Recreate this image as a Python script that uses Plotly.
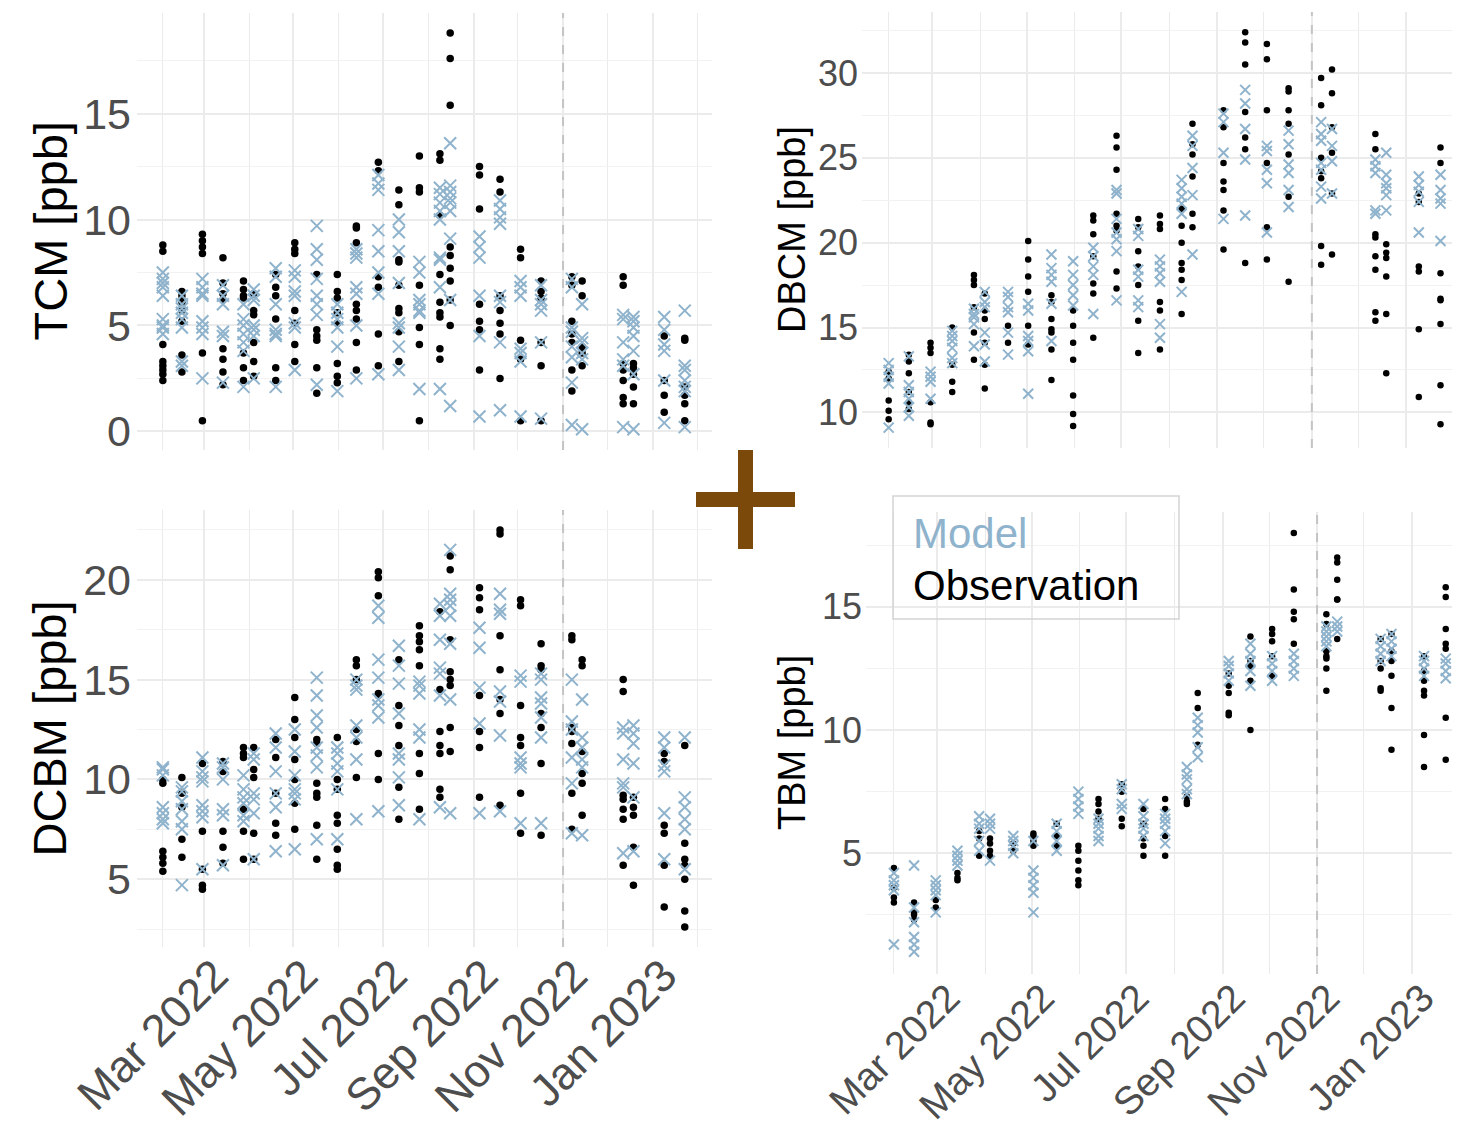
import plotly.graph_objects as go

W, H = 1460, 1127
OFFSET = 8  # the page body margin shifts the figure by this many px

# ---------------- data ----------------
DATES = ["2022-02-01", "2022-02-14", "2022-02-28", "2022-03-14", "2022-03-28", "2022-04-04",
         "2022-04-19", "2022-05-02", "2022-05-17", "2022-05-31", "2022-06-13", "2022-06-28",
         "2022-07-12", "2022-07-26", "2022-08-09", "2022-08-16", "2022-09-05", "2022-09-19",
         "2022-10-03", "2022-10-17", "2022-11-07", "2022-11-14", "2022-12-12", "2022-12-19",
         "2023-01-09", "2023-01-23"]
CUTOFF_DATE = "2022-11-01"

TCM_OBS = [[8.8, 8.5, 4.1, 3.3, 3.1, 2.9, 2.7, 2.4], [6.6, 6.4, 6.1, 5.7, 5.2, 3.6, 2.8],
           [9.3, 9.0, 8.7, 8.4, 3.7, 0.5], [8.2, 7.0, 6.5, 6.2, 3.9, 3.4, 2.8, 2.2],
           [7.1, 6.7, 6.4, 6.3, 3.7, 3.0, 2.4], [6.5, 5.7, 5.5, 4.2, 3.3, 2.6],
           [7.4, 6.8, 6.4, 5.3, 3.0, 2.4], [8.9, 8.6, 8.4, 5.7, 5.1, 4.1, 3.3],
           [7.4, 4.8, 4.5, 4.3, 3.0, 1.8], [7.4, 6.6, 6.3, 5.6, 5.1, 3.2, 2.6, 2.3],
           [9.7, 9.6, 8.9, 6.0, 5.7, 5.3, 4.2, 2.9], [12.7, 12.3, 7.3, 6.8, 4.6, 3.1],
           [11.4, 10.7, 8.1, 8.0, 6.9, 5.8, 5.6, 4.7, 3.3], [13.0, 11.5, 11.3, 6.9, 4.9, 4.1, 0.5],
           [13.1, 12.8, 10.2, 7.4, 6.1, 5.6, 5.4, 3.9, 3.4], [18.8, 17.6, 15.4, 8.7, 8.3, 7.7, 7.1, 6.2, 5.0],
           [12.5, 12.1, 10.5, 6.0, 5.2, 4.8, 2.9], [11.9, 11.3, 6.4, 5.7, 5.1, 4.6, 2.5],
           [8.6, 8.2, 4.3, 3.4, 0.5], [7.1, 6.6, 6.3, 4.2, 3.1, 0.5],
           [7.3, 6.9, 5.2, 4.6, 4.2, 2.9, 1.9], [7.1, 6.4, 4.0, 3.7, 3.1],
           [7.3, 6.9, 3.2, 2.9, 2.4, 1.6, 1.3], [3.2, 3.0, 2.7, 2.1, 1.3],
           [4.5, 2.4, 1.7, 0.9], [4.4, 4.3, 2.1, 1.7, 1.3, 0.5]]
TCM_MOD = [[7.5, 7.2, 7.0, 6.8, 6.4, 5.3, 5.0, 4.9, 4.6], [6.4, 6.0, 5.8, 5.6, 5.3, 4.9, 3.3, 3.1],
           [7.2, 6.8, 6.5, 6.4, 5.2, 4.9, 4.6, 2.5], [6.9, 6.4, 6.0, 4.7, 4.5, 2.3],
           [6.0, 5.3, 5.0, 4.6, 4.2, 3.8, 2.1], [6.7, 6.4, 6.2, 5.0, 4.8, 4.5, 2.5],
           [7.7, 7.3, 6.0, 4.8, 4.6, 4.5, 2.1], [7.6, 7.3, 6.6, 6.4, 5.1, 4.9, 2.9],
           [9.7, 8.6, 8.1, 7.2, 6.4, 6.0, 5.5, 2.2], [6.0, 5.6, 5.3, 4.9, 4.0, 1.9],
           [8.6, 8.4, 8.2, 6.8, 6.5, 5.0, 2.5], [12.1, 11.7, 11.4, 9.5, 8.5, 7.5, 6.5, 2.7],
           [10.0, 9.4, 8.5, 7.0, 5.1, 4.9, 4.0, 2.9], [8.0, 7.5, 6.2, 6.0, 5.7, 5.6, 2.0],
           [11.5, 11.2, 10.8, 10.4, 10.0, 8.2, 8.1, 6.8, 2.0], [13.6, 11.6, 11.3, 11.0, 10.8, 10.4, 9.1, 6.2, 1.2],
           [9.2, 8.7, 8.2, 6.4, 4.5, 0.7], [10.9, 10.5, 10.1, 9.8, 6.4, 6.1, 4.2, 1.0],
           [7.1, 6.8, 6.4, 3.9, 3.7, 3.3, 0.7], [6.9, 6.2, 6.0, 5.7, 4.2, 0.6],
           [7.2, 6.8, 4.9, 4.7, 4.0, 3.5, 2.3, 0.3], [6.0, 4.4, 4.2, 3.7, 3.4, 0.1],
           [5.5, 5.3, 4.2, 3.4, 3.1, 0.2], [5.4, 5.2, 4.9, 4.5, 3.8, 2.7, 0.1],
           [5.4, 4.8, 4.1, 3.8, 2.4, 0.4], [5.7, 3.1, 2.9, 2.4, 2.1, 1.9, 0.2]]

DBCM_OBS = [[12.4, 12.0, 10.7, 10.1, 9.6], [13.4, 13.0, 12.3, 11.2, 10.6, 10.2],
            [14.1, 13.8, 13.5, 10.6, 9.4, 9.3], [15.0, 12.8, 11.8, 11.2],
            [18.1, 17.8, 17.5, 16.2, 14.7, 13.1], [17.0, 16.0, 15.5, 14.1, 12.8, 11.4],
            [15.1, 14.1], [20.1, 19.0, 18.0, 17.1, 15.1, 14.0],
            [16.9, 16.5, 15.5, 14.9, 14.7, 13.7, 11.9], [16.0, 15.1, 14.1, 13.1, 11.0, 9.9, 9.2],
            [21.6, 21.3, 20.5, 19.2, 17.6, 17.0, 14.4], [26.3, 25.6, 24.3, 21.7, 21.0, 20.7, 18.3, 17.3],
            [21.4, 20.9, 19.5, 18.6, 17.5, 15.4, 13.5], [21.6, 21.1, 20.8, 16.5, 16.0, 13.7],
            [22.0, 21.0, 20.0, 18.8, 18.4, 17.8, 15.8], [27.0, 25.8, 25.2, 23.9, 21.7, 20.9],
            [27.8, 26.8, 24.7, 23.6, 23.1, 21.9, 19.6], [32.4, 31.8, 30.5, 27.7, 26.2, 25.5, 18.8],
            [31.7, 30.8, 27.8, 24.7, 20.9, 19.0], [29.1, 28.9, 27.8, 27.0, 25.2, 22.7, 17.7],
            [29.7, 28.1, 25.0, 24.2, 23.8, 19.8, 18.7], [30.2, 28.8, 26.8, 25.3, 22.9, 19.3],
            [26.4, 25.5, 20.5, 20.3, 19.2, 18.4, 15.9, 15.4], [19.9, 19.4, 19.1, 18.0, 15.8, 12.3],
            [22.9, 22.4, 18.6, 18.3, 14.9, 10.9], [25.6, 24.7, 18.2, 16.7, 16.6, 15.2, 11.6, 9.3]]
DBCM_MOD = [[12.9, 12.5, 12.1, 11.7, 9.1], [13.3, 11.6, 11.2, 10.8, 10.3, 9.8],
            [12.4, 12.1, 11.8, 10.8], [14.8, 14.5, 14.2, 13.8, 13.2, 12.9],
            [16.1, 15.8, 15.6, 15.2, 13.9], [17.1, 16.5, 16.2, 14.7, 14.0, 13.0],
            [17.1, 16.8, 16.2, 15.9, 14.7, 13.4], [16.4, 16.0, 14.5, 14.2, 13.6, 11.1],
            [19.3, 18.5, 18.1, 17.7, 16.4, 14.2], [18.9, 18.1, 17.5, 16.9, 16.3],
            [19.7, 19.2, 18.6, 18.1, 15.8], [23.1, 22.9, 21.4, 20.6, 20.2, 19.5, 16.6],
            [20.8, 20.4, 18.4, 18.0, 16.6, 16.2], [19.0, 18.6, 18.2, 17.7, 15.2, 14.4],
            [23.7, 23.2, 22.7, 22.3, 21.7, 17.1], [26.3, 25.7, 24.4, 22.8, 19.3],
            [27.6, 27.1, 25.3, 21.4], [29.0, 28.2, 26.7, 24.9, 21.6],
            [25.7, 25.4, 24.3, 23.5, 20.6], [26.6, 25.8, 24.6, 24.1, 23.1, 22.1],
            [27.1, 26.4, 26.0, 24.7, 24.3, 23.3, 22.6], [26.7, 25.7, 24.8, 22.9],
            [24.9, 24.5, 24.1, 21.9, 21.7], [25.3, 24.0, 23.5, 23.2, 22.8, 21.9],
            [23.9, 23.4, 23.0, 22.4, 20.6], [24.0, 23.1, 22.6, 22.3, 20.1]]

DCBM_OBS = [[10.0, 9.8, 6.4, 6.1, 5.8, 5.4], [10.1, 9.3, 8.6, 7.0, 6.1],
            [10.8, 7.4, 5.5, 4.7, 4.5], [10.9, 10.4, 7.4, 6.6, 5.8],
            [11.6, 11.3, 11.1, 8.5, 7.4, 6.0], [11.6, 10.5, 10.1, 7.3, 6.0],
            [12.0, 11.1, 9.3, 7.8, 7.2], [14.1, 13.0, 12.1, 11.0, 10.0, 8.8, 7.5],
            [12.0, 11.8, 9.8, 9.3, 9.1, 7.7, 6.0], [12.1, 10.0, 9.5, 8.2, 7.8, 6.5, 5.7, 5.5],
            [16.0, 15.7, 15.0, 12.5, 11.9, 10.1], [20.4, 20.1, 19.2, 14.3, 14.2, 11.3, 10.0],
            [16.0, 13.7, 12.7, 11.7, 9.6, 8.0], [17.7, 17.2, 16.9, 16.5, 15.7, 11.3, 10.3, 8.5],
            [18.4, 14.5, 12.4, 11.7, 11.3, 9.5, 9.1], [21.2, 20.5, 17.0, 15.4, 15.0, 14.7, 12.6, 11.4],
            [19.6, 19.1, 18.5, 14.2, 12.4, 11.6, 9.1], [22.5, 22.3, 17.2, 15.5, 14.0, 13.3, 8.7],
            [19.0, 18.7, 13.7, 12.1, 11.7, 9.3, 7.3], [16.8, 15.7, 15.5, 13.3, 12.6, 10.8, 7.2],
            [17.2, 17.0, 12.6, 12.4, 11.8, 9.3, 7.5], [16.0, 15.7, 11.4, 10.3, 9.8, 8.2],
            [15.0, 14.4, 9.2, 9.0, 8.5, 8.0, 5.7], [9.1, 8.6, 8.2, 6.6, 4.7],
            [11.3, 10.9, 7.7, 7.3, 5.7, 3.6], [11.7, 6.8, 6.0, 5.7, 5.0, 3.4, 2.6]]
DCBM_MOD = [[10.6, 10.5, 10.2, 8.6, 8.3, 8.0, 7.8], [9.6, 9.4, 8.9, 8.5, 7.9, 7.5, 4.7],
            [11.1, 10.4, 10.1, 9.9, 8.7, 8.4, 8.1, 5.5], [10.8, 10.6, 10.0, 8.5, 8.2, 5.7],
            [10.2, 9.5, 9.1, 8.8, 8.2, 7.9], [11.3, 11.0, 9.3, 9.0, 8.3, 6.0],
            [12.3, 11.6, 10.4, 9.3, 8.6, 6.4], [12.5, 11.4, 10.2, 9.5, 9.3, 9.0, 6.5],
            [15.1, 14.2, 13.2, 12.6, 11.6, 11.2, 10.6, 7.0], [11.6, 11.3, 10.8, 10.4, 9.5, 7.0],
            [15.0, 14.7, 14.5, 12.7, 12.1, 11.0, 8.0], [18.7, 18.1, 16.0, 15.1, 14.0, 13.7, 13.1, 8.4],
            [16.7, 15.7, 14.8, 13.3, 11.3, 11.0, 10.1, 8.7], [14.9, 14.7, 14.3, 12.5, 12.1, 8.0],
            [18.8, 18.2, 17.0, 15.6, 15.3, 14.2, 8.6], [21.5, 19.3, 19.0, 18.7, 18.2, 16.8, 14.0, 8.3],
            [17.6, 16.6, 14.6, 12.8, 8.3], [19.3, 18.5, 18.3, 14.4, 13.9, 12.2, 8.4],
            [15.2, 14.9, 11.1, 10.8, 10.6, 7.8], [15.3, 15.0, 14.1, 13.8, 13.1, 12.1, 7.8],
            [15.0, 12.9, 12.5, 11.1, 9.8, 7.3], [14.0, 12.1, 11.6, 11.0, 10.6, 7.2],
            [12.6, 12.3, 11.0, 9.8, 9.6, 6.3], [12.7, 12.3, 11.8, 10.8, 9.1, 6.4],
            [12.1, 11.6, 10.7, 10.4, 8.3, 6.0], [12.1, 9.1, 8.6, 8.0, 7.5, 5.5]]

TBM_OBS = [[4.4, 3.6, 3.2, 3.0], [3.0, 2.6, 2.5, 2.3], [3.1, 2.8], [4.2, 4.0, 3.9],
           [5.9, 5.6, 4.9], [5.6, 5.4, 5.1, 4.9], [5.4, 5.1], [5.8, 5.7, 5.5, 5.3],
           [6.2, 5.7, 5.3], [5.3, 5.1, 4.7, 4.3, 3.9, 3.7], [7.2, 7.0, 6.7, 6.4],
           [7.8, 7.5, 6.4, 6.1], [6.8, 6.2, 5.6, 5.3, 4.9], [7.2, 6.8, 5.7, 4.9],
           [7.3, 7.1, 7.0], [11.5, 10.9, 9.4], [12.3, 11.8, 11.5, 10.7, 10.6],
           [13.8, 12.8, 12.6, 12.0, 10.0], [14.1, 13.9, 13.6, 13.0, 12.2],
           [18.0, 15.7, 14.8, 14.5, 13.5], [14.7, 14.3, 13.2, 13.0, 12.9, 12.5, 11.6],
           [17.0, 16.8, 16.1, 15.3, 15.3, 13.7], [13.7, 12.8, 12.5, 11.7, 11.6],
           [13.9, 13.2, 12.8, 12.2, 10.9, 9.2], [13.0, 12.4, 12.0, 11.6, 11.4, 9.8, 8.5],
           [15.8, 15.4, 14.1, 13.5, 13.3, 10.5, 8.8]]
TBM_MOD = [[4.2, 3.9, 3.7, 3.5, 1.3], [4.5, 2.8, 2.2, 1.6, 1.3, 1.0], [3.9, 3.7, 3.5, 3.3, 2.6],
           [5.1, 4.9, 4.7, 4.5], [6.5, 6.2, 6.0, 5.5, 5.1], [6.4, 6.2, 6.0, 4.7],
           [5.7, 5.5, 5.3, 5.0], [5.5, 4.3, 4.0, 3.7, 3.4, 2.6], [6.2, 5.9, 5.5, 5.1],
           [7.5, 7.2, 6.9, 6.6], [6.4, 6.2, 6.0, 5.7, 5.5], [7.8, 7.6, 7.0, 6.8],
           [7.0, 6.5, 6.2, 6.0, 5.7], [6.6, 6.4, 6.2, 5.9, 5.4], [8.5, 8.2, 8.0, 7.6, 7.4],
           [10.5, 10.2, 9.9, 9.3, 8.9], [12.8, 12.6, 12.3, 12.0], [13.5, 13.1, 12.8, 12.4, 11.8],
           [13.0, 12.7, 12.4, 12.0], [13.1, 12.8, 12.5, 12.2], [14.2, 14.0, 13.8, 13.6, 13.4],
           [14.4, 14.2, 14.0], [13.7, 13.4, 13.1, 12.8], [13.9, 13.6, 13.3, 13.0],
           [13.0, 12.8, 12.5, 12.2], [12.9, 12.7, 12.4, 12.1]]

LEGEND_LABELS = ["Model", "Observation"]

# ---------------- style ----------------
BLUE = "#8FB3CC"
BLACK = "#000000"
GRID = "#EBEBEB"
GRID_MINOR = "#F2F2F2"
TICK_GREY = "#4D4D4D"
BROWN = "#7B4A0B"
FONT = "Liberation Sans, Arial, Helvetica, sans-serif"


def fx(p):
    return (p - OFFSET) / W


def fy(p):
    return 1 - (p - OFFSET) / H


def expand(values):
    xs, ys = [], []
    for d, col in zip(DATES, values):
        for v in col:
            xs.append(d)
            ys.append(v)
    return xs, ys


PANELS = [
    dict(title="TCM [ppb]", obs=TCM_OBS, mod=TCM_MOD, xpx=(137, 712), ypx=(13, 450),
         xrange=["2022-01-14 09:00", "2023-02-10 14:00"], yrange=[-0.88, 19.75],
         big=True, xlabels=False, tx=50),
    dict(title="DBCM [ppb]", obs=DBCM_OBS, mod=DBCM_MOD, xpx=(862, 1460), ypx=(12, 448),
         xrange=["2022-01-14 19:00", "2023-02-04 14:00"], yrange=[7.9, 33.59],
         big=False, xlabels=False, tx=792),
    dict(title="DCBM [ppb]", obs=DCBM_OBS, mod=DCBM_MOD, xpx=(137, 712), ypx=(510, 947),
         xrange=["2022-01-14 09:00", "2023-02-10 14:00"], yrange=[1.6, 23.5],
         big=True, xlabels=True, tx=49),
    dict(title="TBM [ppb]", obs=TBM_OBS, mod=TBM_MOD, xpx=(866, 1460), ypx=(512, 974),
         xrange=["2022-01-14 00:00", "2023-02-01 05:00"], yrange=[0.1, 18.85],
         big=False, xlabels=True, tx=792),
]

fig = go.Figure()
annotations = []
shapes = []

for i, p in enumerate(PANELS, start=1):
    sfx = "" if i == 1 else str(i)
    big = p["big"]
    tick_fs = 43 if big else 36
    xtick_fs = 45 if big else 39
    title_fs = 47 if big else 38
    obs_size = 7.5 if big else 6.5
    mod_size = 12 if big else 10

    ox, oy = expand(p["obs"])
    mx, my = expand(p["mod"])
    fig.add_trace(go.Scatter(x=ox, y=oy, mode="markers", name=LEGEND_LABELS[1],
                             xaxis="x" + sfx, yaxis="y" + sfx, showlegend=False,
                             marker=dict(symbol="circle", size=obs_size, color=BLACK,
                                         line=dict(width=0))))
    fig.add_trace(go.Scatter(x=mx, y=my, mode="markers", name=LEGEND_LABELS[0],
                             xaxis="x" + sfx, yaxis="y" + sfx, showlegend=False,
                             marker=dict(symbol="x-thin", size=mod_size, color=BLUE,
                                         line=dict(width=2, color=BLUE))))

    xa = dict(domain=[fx(p["xpx"][0]), min(1.0, fx(p["xpx"][1]))], anchor="y" + sfx,
              type="date", range=p["xrange"], dtick="M2", tick0="2022-03-01",
              tickformat="%b %Y", showgrid=True, gridcolor=GRID, gridwidth=1.5,
              zeroline=False, showline=False, ticks="", showticklabels=p["xlabels"],
              tickangle=-45, automargin=False, ticklabelstandoff=-8, ticklabelshift=11,
              tickfont=dict(family=FONT, size=xtick_fs, color=TICK_GREY),
              minor=dict(dtick="M1", tick0="2022-02-01", showgrid=True,
                         gridcolor=GRID, gridwidth=1.2))
    ya = dict(domain=[fy(p["ypx"][1]), fy(p["ypx"][0])], anchor="x" + sfx,
              range=p["yrange"], dtick=5, tick0=0, showgrid=True, gridcolor=GRID,
              gridwidth=1.5, zeroline=False, showline=False, ticks="", automargin=False,
              ticklabelstandoff=5 if big else 3,
              tickfont=dict(family=FONT, size=tick_fs, color=TICK_GREY),
              minor=dict(dtick=2.5, tick0=0, showgrid=True, gridcolor=GRID_MINOR,
                         gridwidth=1.2))
    fig.update_layout(**{"xaxis" + sfx: xa, "yaxis" + sfx: ya})

    # dashed vertical reference line
    shapes.append(dict(type="line", xref="x" + sfx, yref="y" + sfx + " domain",
                       x0=CUTOFF_DATE, x1=CUTOFF_DATE, y0=0, y1=1,
                       line=dict(color="#C4C4C4", width=2, dash="dash"), layer="above"))

    # axis title
    annotations.append(dict(text=p["title"], textangle=-90, xref="paper", yref="paper",
                            x=fx(p["tx"]), y=fy((p["ypx"][0] + p["ypx"][1]) / 2),
                            xanchor="center", yanchor="middle", showarrow=False,
                            font=dict(family=FONT, size=title_fs, color=BLACK)))

# legend box (text only, coloured)
shapes.append(dict(type="rect", xref="paper", yref="paper",
                   x0=fx(893), x1=fx(1179), y0=fy(619), y1=fy(496),
                   line=dict(color="#D3D3D3", width=1.5), fillcolor="rgba(0,0,0,0)"))
annotations.append(dict(text=LEGEND_LABELS[0], xref="paper", yref="paper", x=fx(911), y=fy(534),
                        xanchor="left", yanchor="middle", showarrow=False,
                        font=dict(family=FONT, size=42, color=BLUE)))
annotations.append(dict(text=LEGEND_LABELS[1], xref="paper", yref="paper", x=fx(911), y=fy(585),
                        xanchor="left", yanchor="middle", showarrow=False,
                        font=dict(family=FONT, size=42, color=BLACK)))

# brown plus sign between panels
shapes.append(dict(type="rect", xref="paper", yref="paper", x0=fx(696), x1=fx(795),
                   y0=fy(507), y1=fy(492), fillcolor=BROWN, line=dict(width=0)))
shapes.append(dict(type="rect", xref="paper", yref="paper", x0=fx(738), x1=fx(753),
                   y0=fy(549), y1=fy(450), fillcolor=BROWN, line=dict(width=0)))

fig.update_layout(width=W, height=H, margin=dict(l=0, r=0, t=0, b=0, autoexpand=False),
                  paper_bgcolor="white", plot_bgcolor="white", showlegend=False,
                  annotations=annotations, shapes=shapes,
                  font=dict(family=FONT))

fig.write_html("out.html")
